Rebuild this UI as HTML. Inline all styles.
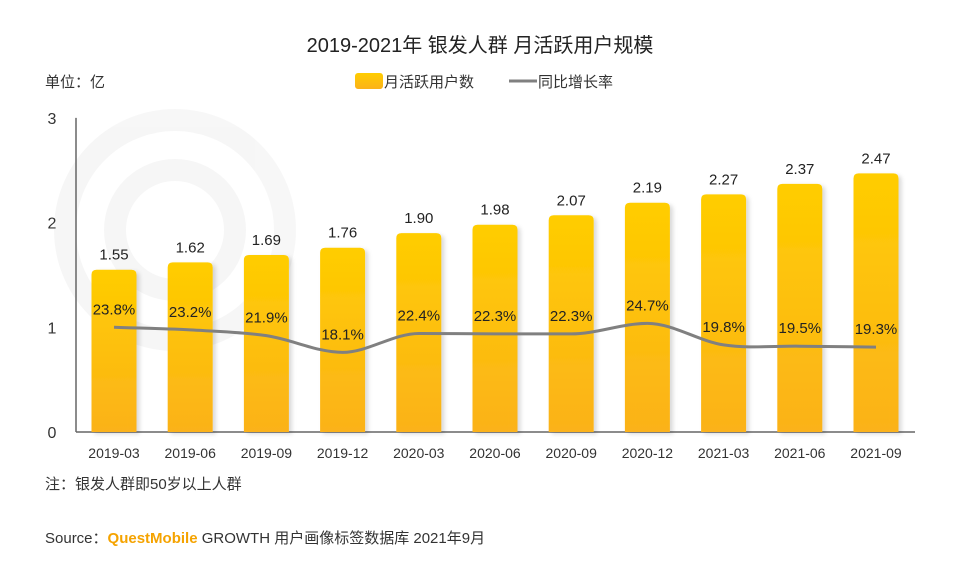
<!DOCTYPE html>
<html><head><meta charset="utf-8"><style>
body{margin:0;background:#fff;}
svg{display:block;font-family:"Liberation Sans","Noto Sans CJK SC",sans-serif;}
</style></head><body>
<svg width="960" height="562" viewBox="0 0 960 562">
<defs>
<linearGradient id="bg" x1="0" y1="0" x2="0" y2="1"><stop offset="0" stop-color="#FFCD00"/><stop offset="1" stop-color="#FBB21A"/></linearGradient>
<filter id="sh" x="-20%" y="-10%" width="150%" height="130%"><feDropShadow dx="3" dy="2" stdDeviation="2" flood-color="#000" flood-opacity="0.15"/></filter>
</defs>
<rect width="960" height="562" fill="#fff"/>
<g opacity="0.03" fill="none" stroke="#000" stroke-width="22">
<circle cx="175" cy="230" r="110"/><circle cx="175" cy="230" r="60"/>
</g>
<text x="480" y="52" text-anchor="middle" font-size="20" fill="#222">2019-2021年 银发人群 月活跃用户规模</text>
<text x="45" y="87" font-size="15" fill="#333">单位：亿</text>
<g>
<rect x="355" y="73" width="28" height="16" rx="3" fill="url(#bg)"/>
<text x="384" y="87" font-size="15" fill="#333">月活跃用户数</text>
<line x1="509" y1="81" x2="537" y2="81" stroke="#808080" stroke-width="3"/>
<text x="538" y="87" font-size="15" fill="#333">同比增长率</text>
</g>
<g id="plot"></g>
<text x="45" y="489" font-size="15" fill="#333">注：银发人群即50岁以上人群</text>
<text x="45" y="543" font-size="15" fill="#333">Source：<tspan fill="#F5A300" font-weight="bold">QuestMobile</tspan> GROWTH 用户画像标签数据库 2021年9月</text>
</svg>
<script>
const categories=["2019-03","2019-06","2019-09","2019-12","2020-03","2020-06","2020-09","2020-12","2021-03","2021-06","2021-09"];
const users=[1.55,1.62,1.69,1.76,1.90,1.98,2.07,2.19,2.27,2.37,2.47];
const growth=[23.8,23.2,21.9,18.1,22.4,22.3,22.3,24.7,19.8,19.5,19.3];
const yTicks=[0,1,2,3];
const NS="http://www.w3.org/2000/svg";
const g=document.getElementById('plot');
const x0=76,step=76.2,base=432,unit=104.7,bw=45;
const xc=i=>x0+38+i*step;
const y=v=>base-v*unit;
const yg=p=>base-p*4.4;
function mk(t,a,txt){const e=document.createElementNS(NS,t);for(const k in a)e.setAttribute(k,a[k]);if(txt!==undefined)e.textContent=txt;g.appendChild(e);return e;}
let e=mk('line',{x1:x0,y1:y(3),x2:x0,y2:base,stroke:'#666','stroke-width':1.5});


e=mk('line',{x1:x0,y1:base,x2:915,y2:base,stroke:'#666','stroke-width':1.5});


yTicks.forEach(t=>{const el=mk('text',{x:52,y:y(t)+6,'font-size':16,fill:'#333','text-anchor':'middle'},String(t));

});
users.forEach((v,i)=>{
const x=xc(i)-bw/2,t=y(v),r=5;
const b=mk('path',{d:`M${x},${base}V${t+r}Q${x},${t} ${x+r},${t}H${x+bw-r}Q${x+bw},${t} ${x+bw},${t+r}V${base}Z`,fill:'url(#bg)',filter:'url(#sh)'});


const l=mk('text',{x:xc(i),y:t-10,'font-size':15,fill:'#222','text-anchor':'middle'},v.toFixed(2));


const c=mk('text',{x:xc(i),y:base+26,'font-size':14,fill:'#333','text-anchor':'middle'},categories[i]);


});
const pts=growth.map((p,i)=>[xc(i),yg(p)]);
const n=pts.length,d=[],m=[];
for(let i=0;i<n-1;i++)d.push((pts[i+1][1]-pts[i][1])/(pts[i+1][0]-pts[i][0]));
for(let i=0;i<n;i++){if(i==0)m.push(d[0]);else if(i==n-1)m.push(d[n-2]);else m.push(d[i-1]*d[i]<=0?0:(d[i-1]+d[i])/2);}
let path=`M${pts[0][0]},${pts[0][1]}`;
for(let i=0;i<n-1;i++){const h=(pts[i+1][0]-pts[i][0])/3;path+=`C${pts[i][0]+h},${pts[i][1]+m[i]*h} ${pts[i+1][0]-h},${pts[i+1][1]-m[i+1]*h} ${pts[i+1][0]},${pts[i+1][1]}`;}
const ln=mk('path',{d:path,fill:'none',stroke:'#808080','stroke-width':3});


growth.forEach((p,i)=>{const t=mk('text',{x:xc(i),y:yg(p)-13,'font-size':15,fill:'#222','text-anchor':'middle'},p.toFixed(1)+'%');

});
</script>
</body></html>
